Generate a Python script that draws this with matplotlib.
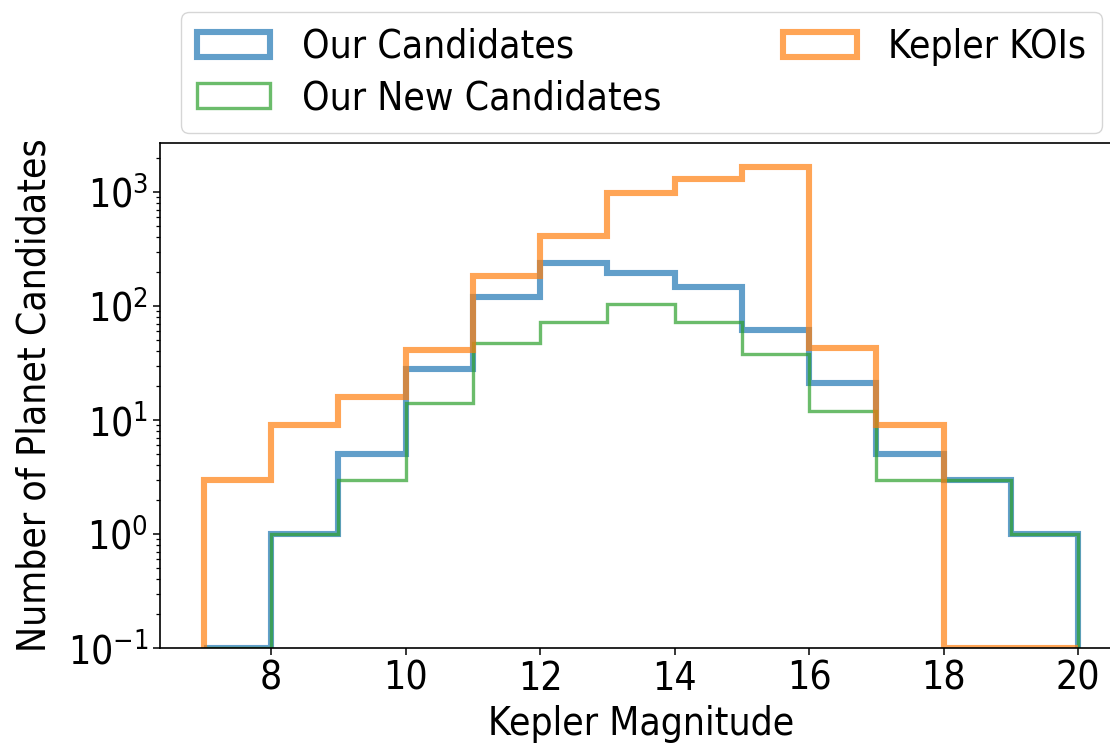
import os
import numpy as np
import matplotlib
matplotlib.use("Agg")
import matplotlib.pyplot as plt
from matplotlib import font_manager
from matplotlib.patches import Patch

# histogram counts per 1-mag bin, Kp = 7 .. 20
mag_edges = [7, 8, 9, 10, 11, 12, 13, 14, 15, 16, 17, 18, 19, 20]
our_candidates = [0, 1, 5, 28, 120, 240, 195, 147, 62, 21, 5, 3, 1]
our_new_candidates = [0, 1, 3, 14, 47, 72, 104, 72, 38, 12, 3, 3, 1]
kepler_kois = [3, 9, 16, 41, 183, 410, 990, 1300, 1670, 43, 9, 0, 0]

# narrow DejaVu if it is there
cond = [f for f in font_manager.fontManager.ttflist
        if os.path.basename(f.fname) == "DejaVuSansCondensed.ttf"]
if cond:
    plt.rcParams["font.family"] = [cond[0].name, "DejaVu Sans"]
    plt.rcParams["font.stretch"] = cond[0].stretch
plt.rcParams["font.size"] = 28

YMIN, YMAX = 0.1, 2700

fig = plt.figure(figsize=(11.1, 7.45), dpi=100)
ax = fig.add_axes([0.1441, 0.1302, 0.8667, 0.6779])

edges = np.array(mag_edges, dtype=float)
series = [
    (our_candidates, "Our Candidates", "tab:blue", 4.4),
    (our_new_candidates, "Our New Candidates", "tab:green", 2.4),
    (kepler_kois, "Kepler KOIs", "tab:orange", 4.4),
]
handles = []
for counts, label, color, lw in series:
    # empty bins sit on the floor of the log axis
    vals = np.clip(np.array(counts, dtype=float), YMIN, None)
    ax.stairs(vals, edges, baseline=YMIN, fill=False, color=color,
              alpha=0.7, linewidth=lw)
    handles.append(Patch(facecolor="none", edgecolor=color, alpha=0.7,
                         linewidth=lw, label=label))

ax.set_yscale("log")
ax.set_ylim(YMIN, YMAX)
ax.set_xlim(6.35, 20.65)
ax.set_xticks([8, 10, 12, 14, 16, 18, 20])
ax.set_xlabel("Kepler Magnitude", labelpad=5)
ax.set_ylabel("Number of Planet Candidates", labelpad=10)
ax.tick_params(which="major", length=5, width=1.1)
ax.tick_params(which="minor", length=3, width=0.9)
for sp in ax.spines.values():
    sp.set_linewidth(1.2)

ax.legend(handles=handles, loc="lower left", ncol=2, mode="expand",
          bbox_to_anchor=(181 / 1110, 1 - 133 / 745, 921 / 1110, 0.16),
          bbox_transform=fig.transFigure, borderaxespad=0,
          handlelength=1.9, handleheight=0.62, labelspacing=0.35,
          borderpad=0.4)

fig.savefig("out.png", dpi=100)
